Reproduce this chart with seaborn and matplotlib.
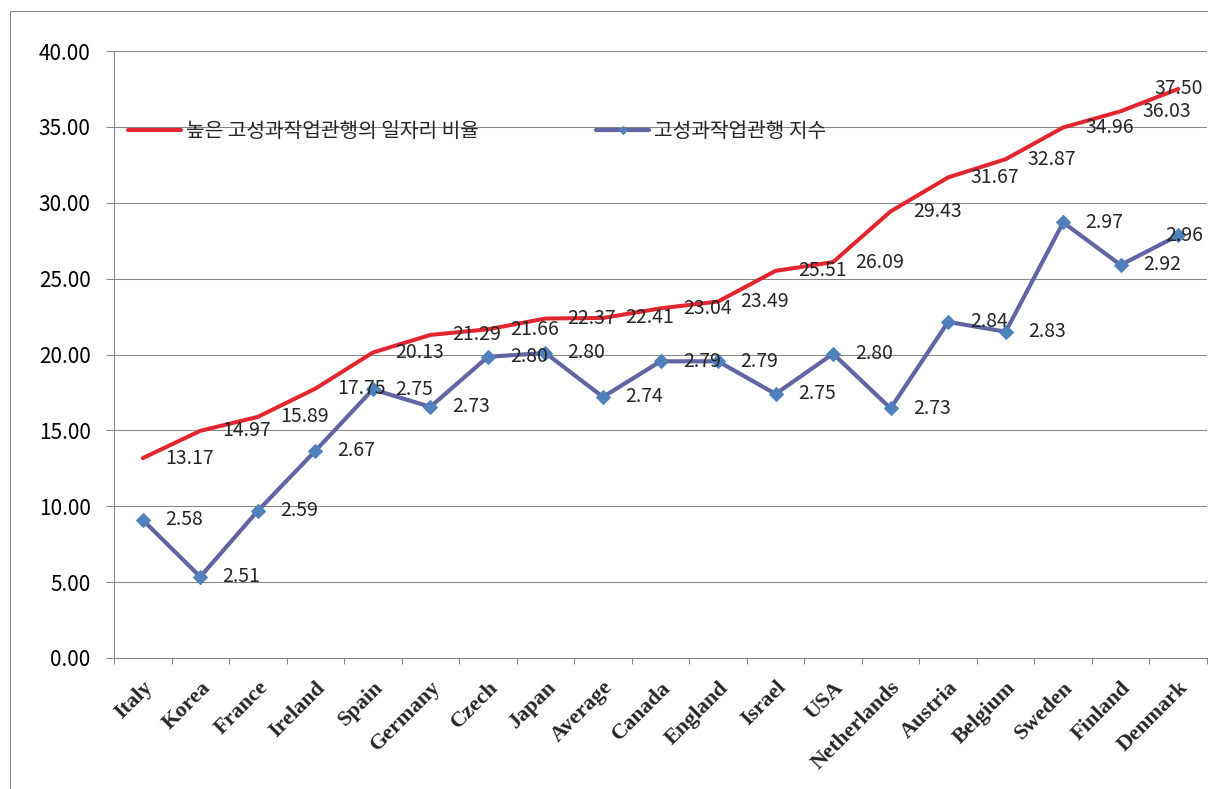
import numpy as np
import matplotlib
matplotlib.use('Agg')
import matplotlib.pyplot as plt
from matplotlib.patches import Rectangle
from matplotlib.ticker import StrMethodFormatter
import seaborn as sns

# data
countries = ['Italy', 'Korea', 'France', 'Ireland', 'Spain', 'Germany', 'Czech',
             'Japan', 'Average', 'Canada', 'England', 'Israel', 'USA',
             'Netherlands', 'Austria', 'Belgium', 'Sweden', 'Finland', 'Denmark']
job_share = [13.17, 14.97, 15.89, 17.75, 20.13, 21.29, 21.66, 22.37, 22.41, 23.04,
             23.49, 25.51, 26.09, 29.43, 31.67, 32.87, 34.96, 36.03, 37.50]
hpwp_index = [2.582, 2.507, 2.594, 2.673, 2.754, 2.731, 2.797, 2.802, 2.744, 2.791,
              2.791, 2.748, 2.801, 2.729, 2.843, 2.830, 2.974, 2.918, 2.957]
series_names = ['높은 고성과작업관행의 일자리 비율', '고성과작업관행 지수']

RED = '#E1262F'
BLUE = '#6264A3'
MARK = '#4F81BD'
GRAY = '#868686'

sns.set_style('white')
plt.rcParams['font.family'] = ['Noto Sans CJK KR', 'DejaVu Sans']

fig = plt.figure(figsize=(12.08, 7.89), dpi=100)
ax = fig.add_axes([114 / 1208, 1 - 658 / 789, (1207 - 114) / 1208, (658 - 51) / 789])
ax2 = ax.twinx()

x = np.arange(len(countries))
sns.lineplot(x=x, y=job_share, ax=ax, color=RED, linewidth=2.9, legend=False)
sns.lineplot(x=x, y=hpwp_index, ax=ax2, color=BLUE, linewidth=3.0, marker='D',
             markersize=7.5, markerfacecolor=MARK, markeredgecolor=MARK, legend=False)

ax.set_xlim(-0.5, len(countries) - 0.5)
ax.set_ylim(0, 40)
ax2.set_ylim(2.4, 3.2)
ax2.set_axis_off()

# y axis
ax.set_yticks(np.arange(0, 41, 5))
ax.yaxis.set_major_formatter(StrMethodFormatter('{x:.2f}'))
ax.tick_params(axis='y', length=5.8, width=0.75, color=GRAY, direction='out',
               pad=11, labelsize=15, labelcolor='black', left=True)
ax.grid(axis='y', color='#878787', linewidth=0.75)
ax.grid(axis='x', visible=False)
ax.set_axisbelow(True)

# x axis: labels at centres, tick marks at boundaries
ax.set_xticks(x)
ax.set_xticklabels(countries, fontfamily='Liberation Serif', fontweight='bold',
                   fontsize=16, rotation=45, ha='right', rotation_mode='anchor')
ax.set_xticks(np.arange(-0.5, len(countries)), minor=True)
ax.tick_params(axis='x', which='major', length=0, pad=14)
ax.tick_params(axis='x', which='minor', length=4.3, width=0.75, color=GRAY,
               direction='out', bottom=True)

for s in ['top', 'right']:
    ax.spines[s].set_visible(False)
for s in ['left', 'bottom']:
    ax.spines[s].set_color(GRAY)
    ax.spines[s].set_linewidth(0.75)

# data labels, right of each point
last = len(countries) - 1
for i, v in enumerate(job_share):
    if i == last:
        ax2.annotate(f'{v:.2f}', xy=(i, v), xycoords=ax.transData, xytext=(18, 0),
                     textcoords='offset points', ha='right', va='center', fontsize=14)
    else:
        ax2.annotate(f'{v:.2f}', xy=(i, v), xycoords=ax.transData, xytext=(16, 0),
                     textcoords='offset points', ha='left', va='center', fontsize=14)
for i, v in enumerate(hpwp_index):
    if i == last:
        ax2.annotate(f'{v:.2f}', xy=(i, v), xytext=(18, 0), textcoords='offset points',
                     ha='right', va='center', fontsize=14)
    else:
        ax2.annotate(f'{v:.2f}', xy=(i, v), xytext=(16, 0), textcoords='offset points',
                     ha='left', va='center', fontsize=14)

handles = [ax.lines[0], ax2.lines[0]]
ax.legend(handles, series_names, ncol=2, loc='center left',
          bbox_to_anchor=(14 / 1093, 0.868), frameon=False, handlelength=2.6,
          handletextpad=0.25, columnspacing=5.8, fontsize=14.6, borderaxespad=0,
          borderpad=0, markerscale=0.6)

# outer chart border
fig.add_artist(Rectangle((10 / 1208, -0.05), 1.2, (789 - 11) / 789 + 0.05,
                         transform=fig.transFigure, fill=False, edgecolor=GRAY,
                         linewidth=0.75))

fig.savefig('out.png', dpi=100)
